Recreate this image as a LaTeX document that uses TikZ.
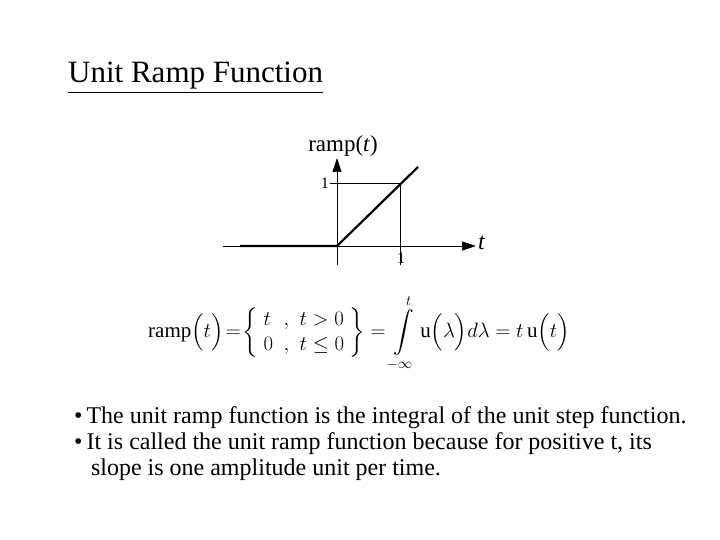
\documentclass[tikz,border=0pt]{standalone}
\usepackage{amsmath}
\usepackage{fontspec}
\setmainfont{Liberation Serif}
\usetikzlibrary{arrows.meta}
\begin{document}
\begin{tikzpicture}[x=1pt,y=-1pt,
  thin line/.style={line width=0.7pt},
  ramp line/.style={line width=2.2pt},
  axis arrow/.style={-{Triangle[length=14pt,width=9pt]}, line width=0.7pt},
  lbl/.style={font=\fontsize{16}{18}\selectfont, inner sep=1pt}]
\useasboundingbox (0,0) rectangle (720,540);
\node[anchor=west, font=\fontsize{31}{35}\selectfont, inner sep=0pt] (title) at (68,78) {\underline{Unit Ramp Function}};
% axes
\coordinate (o) at (337,246);
\coordinate (xl) at (223,246);
\coordinate (xr) at (476,246);
\coordinate (yb) at (337,265);
\coordinate (yt) at (337,158);
\draw[axis arrow] (xl) -- (xr);
\draw[axis arrow] (yb) -- (yt);
\node[anchor=west, font=\fontsize{24}{28}\selectfont\itshape, inner sep=1pt] (tlab) at (477,243) {t};
\node[anchor=south, font=\fontsize{23}{26}\selectfont, inner sep=1pt] (ylab) at (343,158) {ramp(\textit{t})};
% unit guides
\coordinate (p1) at (400,183);
\coordinate (y1) at (330,183);
\coordinate (x1b) at (400,265);
\draw[thin line] (y1) -- (p1) -- (x1b);
\node[lbl, anchor=east] (one y) at (330,183) {1};
\node[lbl, anchor=north] (one x) at (401,252) {1};
% ramp
\coordinate (a) at (240,246);
\coordinate (e) at (418,167);
\draw[ramp line] (a) -- (o) -- (e);
% equation
\node[anchor=west, font=\fontsize{21}{25}\selectfont, inner sep=0pt] (eq) at (148,333)
 {$\mathrm{ramp}\Bigl(t\Bigr)\!=\!\left\{\begin{array}{l@{\ \ ,\ \ }l} t & t>0\\ 0 & t\le 0\end{array}\right\}
 = \displaystyle\int\limits_{-\infty}^{t}\mathrm{u}\Bigl(\lambda\Bigr)d\lambda = t\,\mathrm{u}\Bigl(t\Bigr)$};
% bullets
\node[anchor=north west, align=left, font=\fontsize{24}{26}\selectfont, inner sep=0pt] (bul) at (74,406)
 {\textbullet\,The unit ramp function is the integral of the unit step function.\\
  \textbullet\,It is called the unit ramp function because for positive t, its\\
  \hspace*{0.7em}slope is one amplitude unit per time.};
\end{tikzpicture}
\end{document}
